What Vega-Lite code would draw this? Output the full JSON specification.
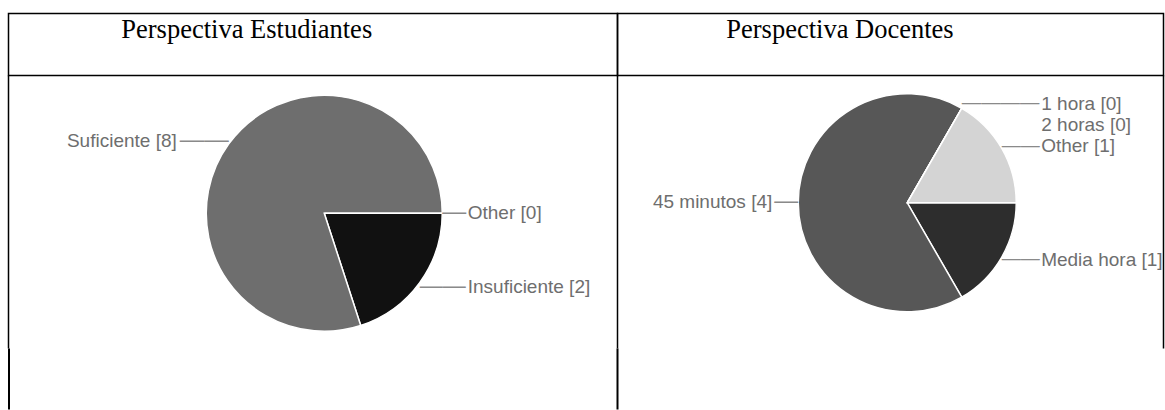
{
  "$schema": "https://vega.github.io/schema/vega-lite/v6.json",
  "padding": {"left": 7.5, "top": 12.5, "right": 1, "bottom": 0},
  "background": "white",
  "config": {"view": {"stroke": null}},
  "spacing": 0,
  "bounds": "flush",
  "columns": 2,
  "resolve": {"scale": {"color": "independent", "theta": "independent", "size": "independent"}},
  "concat": [
    {
      "width": 609,
      "height": 62,
      "view": {"stroke": "black", "strokeWidth": 1.5},
      "data": {"values": [{"title": "Perspectiva Estudiantes"}]},
      "mark": {"type": "text", "font": "Liberation Serif", "fontSize": 26.5, "align": "left", "baseline": "alphabetic", "dx": -191.75, "dy": -6.75, "color": "black"},
      "encoding": {"text": {"field": "title"}}
    },
    {
      "width": 546,
      "height": 62,
      "view": {"stroke": "black", "strokeWidth": 1.5},
      "data": {"values": [{"title": "Perspectiva Docentes"}]},
      "mark": {"type": "text", "font": "Liberation Serif", "fontSize": 26.5, "align": "left", "baseline": "alphabetic", "dx": -164.25, "dy": -6.75, "color": "black"},
      "encoding": {"text": {"field": "title"}}
    },
    {
      "width": 609,
      "height": 273,
      "layer": [
        {
          "data": {"values": [{}]},
          "mark": {"type": "rule", "color": "black", "strokeWidth": 1.5},
          "encoding": {"x": {"value": 0}}
        },
        {
          "data": {"values": [{}]},
          "mark": {"type": "rule", "color": "black", "strokeWidth": 1.5},
          "encoding": {"x": {"value": "width"}}
        },
        {
          "data": {"name": "estudiantes", "values": [
            {"option": "Insuficiente", "count": 2, "label": "Insuficiente [2]"},
            {"option": "Suficiente", "count": 8, "label": "Suficiente [8]"},
            {"option": "Other", "count": 0, "label": "Other [0]"}
          ]},
          "transform": [{"window": [{"op": "row_number", "as": "rank"}]}],
          "layer": [
            {
              "mark": {"type": "arc", "radius": 118, "stroke": "white", "strokeWidth": 1.5, "xOffset": 11.25, "yOffset": 1.25},
              "encoding": {
                "theta": {"field": "count", "type": "quantitative", "stack": true, "scale": {"range": [1.5707963, 7.8539816]}},
                "color": {"field": "option", "type": "nominal", "legend": null, "scale": {"domain": ["Insuficiente", "Suficiente", "Other"], "range": ["#111111", "#6e6e6e", "#a0a0a0"]}},
                "order": {"field": "rank", "type": "quantitative"}
              }
            },
            {
              "mark": {
                "type": "text", "radius": 118, "xOffset": 11.25, "yOffset": 1.25,
                "color": "#8a8a8a", "baseline": "middle",
                "align": {"expr": "datum.option === 'Suficiente' ? 'right' : 'left'"},
                "dy": {"expr": "datum.option === 'Suficiente' ? -4 : datum.option === 'Insuficiente' ? 3.2 : -1.4"}
              },
              "encoding": {
                "theta": {"field": "count", "type": "quantitative", "stack": true},
                "order": {"field": "rank", "type": "quantitative"},
                "text": {"condition": {"test": "datum.option === 'Other'", "value": "—"}, "value": "——"},
                "size": {"condition": [{"test": "datum.option === 'Other'", "value": 24}, {"test": "datum.option === 'Insuficiente'", "value": 23}], "value": 24.5}
              }
            },
            {
              "mark": {
                "type": "text", "radius": 118, "xOffset": 11.25, "yOffset": 1.25,
                "font": "Liberation Sans", "fontSize": 19, "color": "#6e6e6e", "baseline": "middle",
                "align": {"expr": "datum.option === 'Suficiente' ? 'right' : 'left'"},
                "dx": {"expr": "datum.option === 'Suficiente' ? -52 : datum.option === 'Insuficiente' ? 48 : 25.5"},
                "dy": {"expr": "datum.option === 'Suficiente' ? -2.6 : datum.option === 'Insuficiente' ? 4.6 : 0"}
              },
              "encoding": {
                "theta": {"field": "count", "type": "quantitative", "stack": true},
                "order": {"field": "rank", "type": "quantitative"},
                "text": {"field": "label"}
              }
            }
          ]
        }
      ]
    },
    {
      "width": 546,
      "height": 273,
      "layer": [
        {
          "data": {"values": [{}]},
          "mark": {"type": "rule", "color": "black", "strokeWidth": 1.5},
          "encoding": {"x": {"value": "width"}}
        },
        {
          "data": {"name": "docentes", "values": [
            {"option": "Media hora", "count": 1, "label": "Media hora [1]"},
            {"option": "45 minutos", "count": 4, "label": "45 minutos [4]"},
            {"option": "1 hora", "count": 0, "label": "1 hora [0]"},
            {"option": "2 horas", "count": 0, "label": "2 horas [0]"},
            {"option": "Other", "count": 1, "label": "Other [1]"}
          ]},
          "transform": [{"window": [{"op": "row_number", "as": "rank"}]}],
          "layer": [
            {
              "mark": {"type": "arc", "radius": 109, "stroke": "white", "strokeWidth": 1.5, "xOffset": 16.75, "yOffset": -9.25},
              "encoding": {
                "theta": {"field": "count", "type": "quantitative", "stack": true, "scale": {"range": [1.5707963, 7.8539816]}},
                "color": {"field": "option", "type": "nominal", "legend": null, "scale": {"domain": ["Media hora", "45 minutos", "1 hora", "2 horas", "Other"], "range": ["#2d2d2d", "#575757", "#8a8a8a", "#b0b0b0", "#d4d4d4"]}},
                "order": {"field": "rank", "type": "quantitative"}
              }
            },
            {
              "mark": {
                "type": "text", "radius": 109, "xOffset": 16.75, "yOffset": -9.25,
                "color": "#8a8a8a", "baseline": "middle",
                "align": {"expr": "datum.option === '45 minutos' ? 'right' : 'left'"},
                "dy": {"expr": "datum.option === 'Media hora' ? 0.8 : datum.option === '45 minutos' ? -2.2 : datum.option === '1 hora' ? -5.4 : -3.4"}
              },
              "encoding": {
                "theta": {"field": "count", "type": "quantitative", "stack": true},
                "order": {"field": "rank", "type": "quantitative"},
                "text": {"condition": [{"test": "datum.option === '1 hora'", "value": "————"}, {"test": "datum.option === '2 horas'", "value": ""}, {"test": "datum.option === '45 minutos'", "value": "—"}], "value": "——"},
                "size": {"condition": [{"test": "datum.option === '45 minutos'", "value": 24}, {"test": "datum.option === '1 hora'", "value": 19.4}], "value": 19}
              }
            },
            {
              "mark": {
                "type": "text", "radius": 109, "xOffset": 16.75, "yOffset": -9.25,
                "font": "Liberation Sans", "fontSize": 19, "color": "#6e6e6e", "baseline": "middle",
                "align": {"expr": "datum.option === '45 minutos' ? 'right' : 'left'"},
                "dx": {"expr": "datum.option === '45 minutos' ? -26 : (datum.option === '1 hora' || datum.option === '2 horas') ? 79.5 : 39.5"},
                "dy": {"expr": "datum.option === 'Media hora' ? 2.3 : datum.option === '45 minutos' ? -0.8 : datum.option === '1 hora' ? -4 : datum.option === '2 horas' ? 17 : -2"}
              },
              "encoding": {
                "theta": {"field": "count", "type": "quantitative", "stack": true},
                "order": {"field": "rank", "type": "quantitative"},
                "text": {"field": "label"}
              }
            }
          ]
        }
      ]
    },
    {
      "width": 609,
      "height": 61,
      "data": {"values": [{}]},
      "layer": [
        {
          "mark": {"type": "rule", "color": "black", "strokeWidth": 2},
          "encoding": {"x": {"value": 0.5}}
        },
        {
          "mark": {"type": "rule", "color": "black", "strokeWidth": 2},
          "encoding": {"x": {"value": "width"}}
        }
      ]
    }
  ]
}
